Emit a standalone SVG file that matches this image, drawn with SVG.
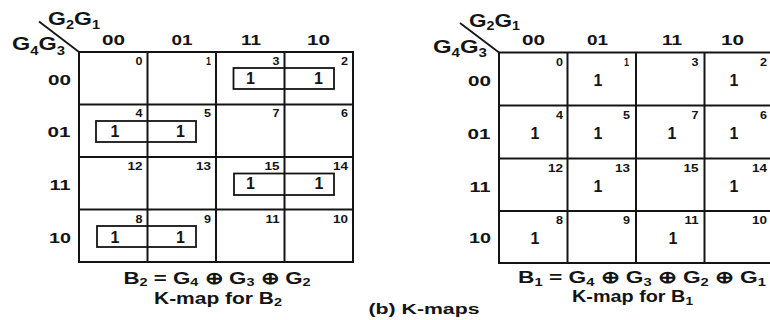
<svg xmlns="http://www.w3.org/2000/svg" width="770" height="320" viewBox="0 0 770 320">
<style>
text{font-family:"Liberation Sans",Arial,sans-serif;font-weight:bold;fill:#141414}
.grid{fill:none;stroke:#141414;stroke-width:2}
.grp{fill:none;stroke:#141414;stroke-width:1.8}
.diag{stroke:#141414;stroke-width:1.8}
.hd{font-size:15.5px;text-anchor:middle}
.rh{font-size:15.5px;text-anchor:end}
.idx{font-size:11.5px;text-anchor:end}
.one{font-size:16px;text-anchor:middle}
.lbl{font-size:19px}
.sub{font-size:12px}
.fsub{font-size:11px}
.fx{font-size:17px;text-anchor:middle}
.km{font-size:16px;text-anchor:middle}
.cap{font-size:15.5px;text-anchor:middle}
</style>
<rect width="770" height="320" fill="#fff"/>

<g id="kmap-b2">
  <g id="kmap-b2-grid">
    <rect class="grid" x="79" y="52" width="274" height="210"/>
    <path class="grid" d="M147.5 52V262M216 52V262M284.5 52V262M79 104.5H353M79 157H353M79 209.5H353"/>
    <line class="diag" x1="39" y1="21.5" x2="79" y2="52"/>
  </g>
  <g id="kmap-b2-vars">
    <text class="lbl" x="48" y="25" textLength="52" lengthAdjust="spacingAndGlyphs">G<tspan class="sub" dy="3.5">2</tspan><tspan dy="-3.5">G</tspan><tspan class="sub" dy="3.5">1</tspan></text>
    <text class="lbl" x="12" y="50" textLength="53" lengthAdjust="spacingAndGlyphs">G<tspan class="sub" dy="4.5">4</tspan><tspan dy="-4.5">G</tspan><tspan class="sub" dy="4.5">3</tspan></text>
  </g>
  <g id="kmap-b2-colheads">
    <text class="hd" x="113.5" y="44.5" textLength="23" lengthAdjust="spacingAndGlyphs">00</text>
    <text class="hd" x="182" y="44.5" textLength="21" lengthAdjust="spacingAndGlyphs">01</text>
    <text class="hd" x="251" y="44.5" textLength="20" lengthAdjust="spacingAndGlyphs">11</text>
    <text class="hd" x="318.5" y="44.5" textLength="23" lengthAdjust="spacingAndGlyphs">10</text>
  </g>
  <g id="kmap-b2-rowheads">
    <text class="rh" x="71" y="84.5" textLength="23" lengthAdjust="spacingAndGlyphs">00</text>
    <text class="rh" x="70.5" y="137" textLength="23" lengthAdjust="spacingAndGlyphs">01</text>
    <text class="rh" x="70.5" y="190" textLength="21" lengthAdjust="spacingAndGlyphs">11</text>
    <text class="rh" x="71" y="243" textLength="22" lengthAdjust="spacingAndGlyphs">10</text>
  </g>
  <g id="kmap-b2-index">
    <text class="idx" x="142.5" y="64.5" textLength="7" lengthAdjust="spacingAndGlyphs">0</text>
    <text class="idx" x="211" y="64.5" textLength="5" lengthAdjust="spacingAndGlyphs">1</text>
    <text class="idx" x="279.5" y="64.5" textLength="7" lengthAdjust="spacingAndGlyphs">3</text>
    <text class="idx" x="348" y="64.5" textLength="7" lengthAdjust="spacingAndGlyphs">2</text>
    <text class="idx" x="142.5" y="117" textLength="7" lengthAdjust="spacingAndGlyphs">4</text>
    <text class="idx" x="211" y="117" textLength="7" lengthAdjust="spacingAndGlyphs">5</text>
    <text class="idx" x="279.5" y="117" textLength="7" lengthAdjust="spacingAndGlyphs">7</text>
    <text class="idx" x="348" y="117" textLength="7" lengthAdjust="spacingAndGlyphs">6</text>
    <text class="idx" x="142.5" y="170" textLength="15" lengthAdjust="spacingAndGlyphs">12</text>
    <text class="idx" x="211" y="170" textLength="15" lengthAdjust="spacingAndGlyphs">13</text>
    <text class="idx" x="279.5" y="170" textLength="15" lengthAdjust="spacingAndGlyphs">15</text>
    <text class="idx" x="348" y="170" textLength="15" lengthAdjust="spacingAndGlyphs">14</text>
    <text class="idx" x="142.5" y="222.5" textLength="7" lengthAdjust="spacingAndGlyphs">8</text>
    <text class="idx" x="211" y="222.5" textLength="7" lengthAdjust="spacingAndGlyphs">9</text>
    <text class="idx" x="279.5" y="222.5" textLength="14" lengthAdjust="spacingAndGlyphs">11</text>
    <text class="idx" x="348" y="222.5" textLength="15" lengthAdjust="spacingAndGlyphs">10</text>
  </g>
  <g id="kmap-b2-ones">
    <text class="one" x="250.5" y="84">1</text>
    <text class="one" x="318.5" y="84">1</text>
    <text class="one" x="115" y="136.5">1</text>
    <text class="one" x="180.5" y="136.5">1</text>
    <text class="one" x="250.5" y="189">1</text>
    <text class="one" x="319" y="189">1</text>
    <text class="one" x="115" y="242.5">1</text>
    <text class="one" x="180.5" y="242.5">1</text>
  </g>
  <g id="kmap-b2-groups">
    <rect class="grp" x="233.5" y="68" width="100.5" height="21"/>
    <rect class="grp" x="96" y="121" width="100" height="21"/>
    <rect class="grp" x="234" y="173.5" width="100" height="21.5"/>
    <rect class="grp" x="97" y="226" width="99" height="21"/>
  </g>
  <g id="kmap-b2-caption">
    <text class="fx" x="217" y="283.5" textLength="187" lengthAdjust="spacingAndGlyphs">B<tspan class="fsub" dy="2.5">2</tspan><tspan dy="-2.5"> = G</tspan><tspan class="fsub" dy="2.5">4</tspan><tspan dy="-2.5"> ⊕ G</tspan><tspan class="fsub" dy="2.5">3</tspan><tspan dy="-2.5"> ⊕ G</tspan><tspan class="fsub" dy="2.5">2</tspan></text>
    <text class="km" x="218" y="303.5" textLength="128" lengthAdjust="spacingAndGlyphs">K-map for B<tspan class="fsub" dy="2.5">2</tspan></text>
  </g>
</g>

<g id="kmap-b1">
  <g id="kmap-b1-grid">
    <rect class="grid" x="499" y="52.5" width="274" height="210.5"/>
    <path class="grid" d="M567.5 52.5V263M636 52.5V263M704.5 52.5V263M499 105.5H773M499 158.5H773M499 211H773"/>
    <line class="diag" x1="460" y1="23" x2="499" y2="52.5"/>
  </g>
  <g id="kmap-b1-vars">
    <text class="lbl" x="469" y="26.5" textLength="51" lengthAdjust="spacingAndGlyphs">G<tspan class="sub" dy="3.5">2</tspan><tspan dy="-3.5">G</tspan><tspan class="sub" dy="3.5">1</tspan></text>
    <text class="lbl" x="433" y="52.5" textLength="54" lengthAdjust="spacingAndGlyphs">G<tspan class="sub" dy="4.5">4</tspan><tspan dy="-4.5">G</tspan><tspan class="sub" dy="4.5">3</tspan></text>
  </g>
  <g id="kmap-b1-colheads">
    <text class="hd" x="533.5" y="45" textLength="23" lengthAdjust="spacingAndGlyphs">00</text>
    <text class="hd" x="597.5" y="45" textLength="21" lengthAdjust="spacingAndGlyphs">01</text>
    <text class="hd" x="672" y="45" textLength="20" lengthAdjust="spacingAndGlyphs">11</text>
    <text class="hd" x="732.5" y="45" textLength="23" lengthAdjust="spacingAndGlyphs">10</text>
  </g>
  <g id="kmap-b1-rowheads">
    <text class="rh" x="491" y="86" textLength="23" lengthAdjust="spacingAndGlyphs">00</text>
    <text class="rh" x="490.5" y="139" textLength="23" lengthAdjust="spacingAndGlyphs">01</text>
    <text class="rh" x="490.5" y="191.5" textLength="21" lengthAdjust="spacingAndGlyphs">11</text>
    <text class="rh" x="491" y="243" textLength="22" lengthAdjust="spacingAndGlyphs">10</text>
  </g>
  <g id="kmap-b1-index">
    <text class="idx" x="563" y="65.5" textLength="7" lengthAdjust="spacingAndGlyphs">0</text>
    <text class="idx" x="629" y="65.5" textLength="5" lengthAdjust="spacingAndGlyphs">1</text>
    <text class="idx" x="698.5" y="65.5" textLength="7" lengthAdjust="spacingAndGlyphs">3</text>
    <text class="idx" x="767" y="65.5" textLength="7" lengthAdjust="spacingAndGlyphs">2</text>
    <text class="idx" x="563" y="118.5" textLength="7" lengthAdjust="spacingAndGlyphs">4</text>
    <text class="idx" x="630" y="118.5" textLength="7" lengthAdjust="spacingAndGlyphs">5</text>
    <text class="idx" x="698.5" y="118.5" textLength="7" lengthAdjust="spacingAndGlyphs">7</text>
    <text class="idx" x="767" y="118.5" textLength="7" lengthAdjust="spacingAndGlyphs">6</text>
    <text class="idx" x="563" y="171.5" textLength="15" lengthAdjust="spacingAndGlyphs">12</text>
    <text class="idx" x="630" y="171.5" textLength="15" lengthAdjust="spacingAndGlyphs">13</text>
    <text class="idx" x="698.5" y="171.5" textLength="15" lengthAdjust="spacingAndGlyphs">15</text>
    <text class="idx" x="767" y="171.5" textLength="15" lengthAdjust="spacingAndGlyphs">14</text>
    <text class="idx" x="563" y="224" textLength="7" lengthAdjust="spacingAndGlyphs">8</text>
    <text class="idx" x="630" y="224" textLength="7" lengthAdjust="spacingAndGlyphs">9</text>
    <text class="idx" x="698.5" y="224" textLength="14" lengthAdjust="spacingAndGlyphs">11</text>
    <text class="idx" x="767" y="224" textLength="15" lengthAdjust="spacingAndGlyphs">10</text>
  </g>
  <g id="kmap-b1-ones">
    <text class="one" x="598" y="86">1</text>
    <text class="one" x="734" y="86">1</text>
    <text class="one" x="535" y="138.5">1</text>
    <text class="one" x="598" y="138.5">1</text>
    <text class="one" x="672" y="138.5">1</text>
    <text class="one" x="734" y="138.5">1</text>
    <text class="one" x="598" y="191.5">1</text>
    <text class="one" x="734" y="191.5">1</text>
    <text class="one" x="535" y="243.5">1</text>
    <text class="one" x="673" y="243.5">1</text>
  </g>
  <g id="kmap-b1-caption">
    <text class="fx" x="642" y="283" textLength="248" lengthAdjust="spacingAndGlyphs">B<tspan class="fsub" dy="2.5">1</tspan><tspan dy="-2.5"> = G</tspan><tspan class="fsub" dy="2.5">4</tspan><tspan dy="-2.5"> ⊕ G</tspan><tspan class="fsub" dy="2.5">3</tspan><tspan dy="-2.5"> ⊕ G</tspan><tspan class="fsub" dy="2.5">2</tspan><tspan dy="-2.5"> ⊕ G</tspan><tspan class="fsub" dy="2.5">1</tspan></text>
    <text class="km" x="632.5" y="302" textLength="121" lengthAdjust="spacingAndGlyphs">K-map for B<tspan class="fsub" dy="2.5">1</tspan></text>
  </g>
</g>

<g id="figure-caption">
  <text class="cap" x="424" y="314" textLength="111" lengthAdjust="spacingAndGlyphs">(b) K-maps</text>
</g>
</svg>
